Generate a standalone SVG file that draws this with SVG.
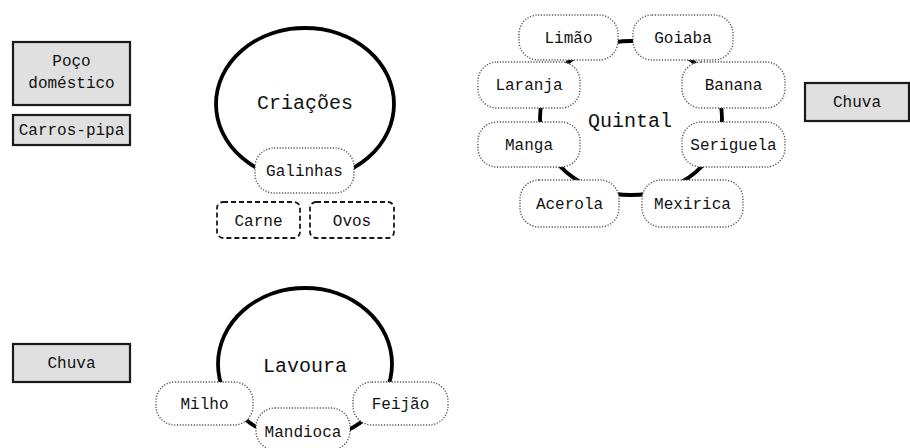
<svg xmlns="http://www.w3.org/2000/svg" width="910" height="448" viewBox="0 0 910 448">
<style>
text{font-family:"Liberation Mono","DejaVu Sans Mono",monospace;fill:#111;text-anchor:middle}
.t{font-size:16px}
.big{font-size:20px}
.src rect{fill:#e0e0e0;stroke:#1a1a1a;stroke-width:2.2}
.leaf rect{fill:#fff;stroke:#555;stroke-width:1.4;stroke-dasharray:1.2 1.6}
.prod rect{fill:#fff;stroke:#1a1a1a;stroke-width:1.8;stroke-dasharray:5 3}
.ring{fill:none;stroke:#000;stroke-width:3.8}
</style>
<g id="connectors">
<ellipse class="ring" cx="305" cy="104" rx="89" ry="76"/>
<ellipse class="ring" cx="631" cy="118" rx="91" ry="77"/>
<ellipse class="ring" cx="305" cy="364" rx="87" ry="76"/>
</g>
<g id="poco" class="src"><rect x="13" y="42" width="117" height="63"/><text class="t" x="71.5" y="66">Poço</text><text class="t" x="71.5" y="88">doméstico</text></g>
<g id="carros" class="src"><rect x="13" y="115" width="117" height="30"/><text class="t" x="71.5" y="135">Carros-pipa</text></g>
<g id="chuva1" class="src"><rect x="805" y="83" width="104" height="38"/><text class="t" x="857" y="107">Chuva</text></g>
<g id="chuva2" class="src"><rect x="13" y="344" width="117" height="38"/><text class="t" x="71.5" y="368">Chuva</text></g>
<g id="criacoes"><text class="big" x="305" y="109">Criações</text></g>
<g id="quintal"><text class="big" x="630" y="127">Quintal</text></g>
<g id="lavoura"><text class="big" x="305" y="372">Lavoura</text></g>
<g id="galinhas" class="leaf"><rect x="255" y="148" width="99" height="45" rx="19"/><text class="t" x="304.5" y="176">Galinhas</text></g>
<g id="carne" class="prod"><rect x="217" y="202" width="83" height="36" rx="6"/><text class="t" x="258.5" y="226">Carne</text></g>
<g id="ovos" class="prod"><rect x="310" y="202" width="84" height="36" rx="6"/><text class="t" x="352" y="226">Ovos</text></g>
<g id="limao" class="leaf"><rect x="519" y="15" width="99" height="45" rx="19"/><text class="t" x="568.5" y="43">Limão</text></g>
<g id="goiaba" class="leaf"><rect x="633" y="15" width="100" height="45" rx="19"/><text class="t" x="683" y="43">Goiaba</text></g>
<g id="laranja" class="leaf"><rect x="478" y="62" width="102" height="46" rx="19"/><text class="t" x="529" y="90">Laranja</text></g>
<g id="banana" class="leaf"><rect x="682" y="62" width="103" height="46" rx="19"/><text class="t" x="733.5" y="90">Banana</text></g>
<g id="manga" class="leaf"><rect x="478" y="122" width="102" height="45" rx="19"/><text class="t" x="529" y="150">Manga</text></g>
<g id="seriguela" class="leaf"><rect x="682" y="122" width="103" height="45" rx="19"/><text class="t" x="733.5" y="150">Seriguela</text></g>
<g id="acerola" class="leaf"><rect x="520" y="180" width="99" height="47" rx="19"/><text class="t" x="569.5" y="209">Acerola</text></g>
<g id="mexirica" class="leaf"><rect x="642" y="180" width="101" height="47" rx="19"/><text class="t" x="692.5" y="209">Mexirica</text></g>
<g id="milho" class="leaf"><rect x="156" y="382" width="97" height="43" rx="19"/><text class="t" x="204.5" y="409">Milho</text></g>
<g id="mandioca" class="leaf"><rect x="256" y="408" width="94" height="42" rx="19"/><text class="t" x="303" y="437">Mandioca</text></g>
<g id="feijao" class="leaf"><rect x="353" y="382" width="95" height="43" rx="19"/><text class="t" x="400.5" y="409">Feijão</text></g>
</svg>
